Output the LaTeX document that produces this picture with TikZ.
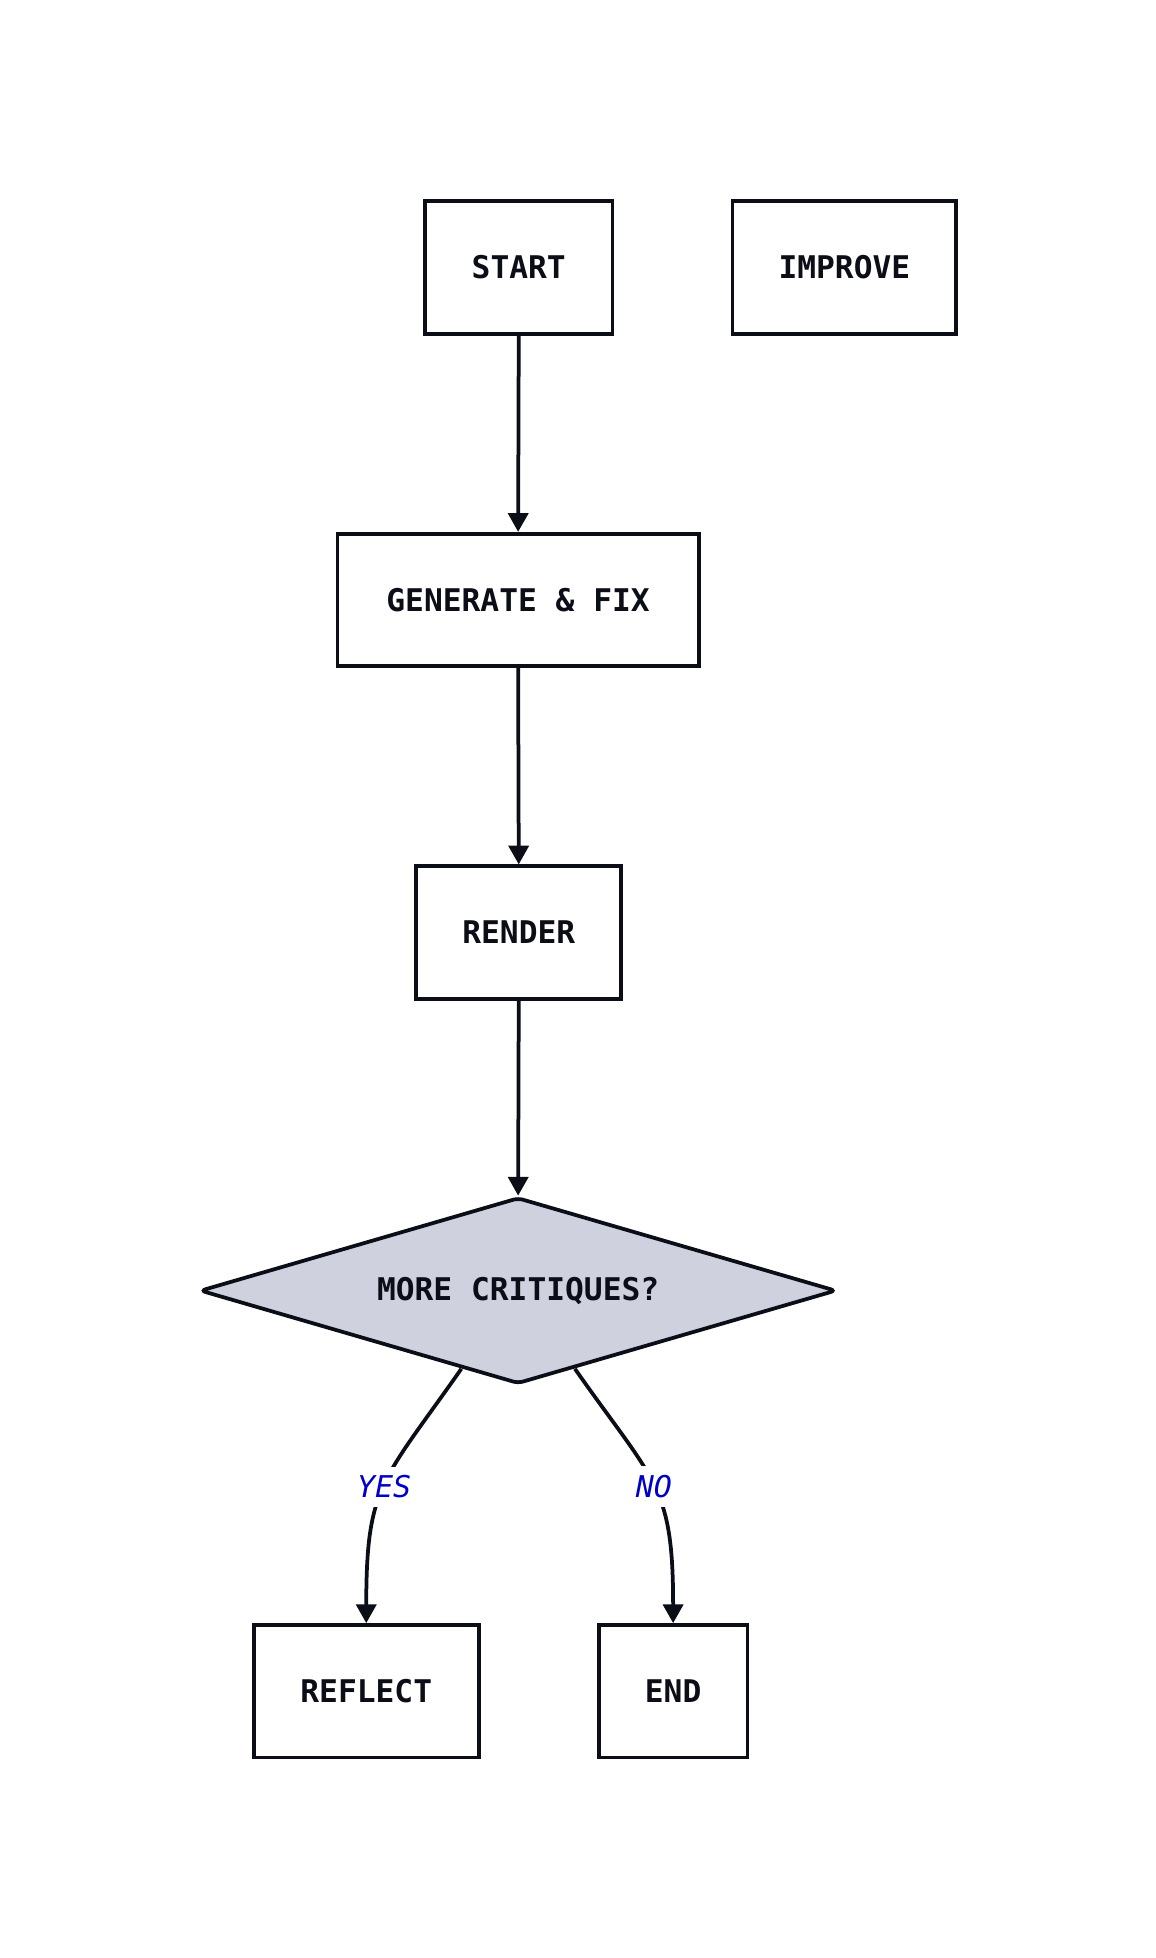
\documentclass[tikz,border=0pt]{standalone}
\usepackage{fontspec}
\setmonofont{DejaVu Sans Mono}
\usepackage{tikz}
\usetikzlibrary{arrows.meta,shapes.geometric}
\definecolor{inkline}{HTML}{0B0D17}
\definecolor{choicefill}{HTML}{CFD2DE}
\definecolor{answerblue}{HTML}{0000C8}

\begin{document}
\begin{tikzpicture}
        [
            x=1pt, y=-1pt,
            >={Triangle[length=15pt, width=16pt]},
            stage/.style={rectangle, draw=inkline, line width=3pt, minimum height=106pt, inner sep=0pt, text=inkline, font=\ttfamily\bfseries\fontsize{25}{25}\selectfont},
            choice/.style={diamond, aspect=3.42, draw=inkline, fill=choicefill, line width=3pt, rounded corners=4pt, minimum width=509pt, minimum height=149pt, inner sep=0pt, text=inkline, font=\ttfamily\bfseries\fontsize{25}{25}\selectfont},
            answer/.style={fill=white, inner sep=7pt, pos=0.5, text=answerblue, font=\ttfamily\itshape\fontsize{24}{24}\selectfont},
            flow/.style={->, line width=3pt, draw=inkline},
        ]
            \useasboundingbox (0,0) rectangle (924.8,1566.4);

            \node[stage, minimum width=150pt] (START) at (415.0, 214.0) {START};
            \node[stage, minimum width=179pt] (IMPROVE) at (675.5, 214.0) {IMPROVE};
            \node[stage, minimum width=289pt] (GENFIX) at (414.5, 480.0) {GENERATE \& FIX};
            \node[stage, minimum width=164pt] (RENDER) at (415.0, 746.0) {RENDER};
            \node[choice] (MORE) at (414.5, 1032.5) {MORE CRITIQUES?};
            \node[stage, minimum width=180pt] (REFLECT) at (293.0, 1353.0) {REFLECT};
            \node[stage, minimum width=119pt] (END) at (538.5, 1353.0) {END};

            \draw[flow] (START.south) -- (GENFIX.north);
            \draw[flow] (GENFIX.south) -- (RENDER.north);
            \draw[flow] (RENDER.south) -- (MORE.north);
            \draw[flow] (MORE.-126) to [out=-125,in=90,looseness=1.3] node[answer] {YES} (REFLECT.north);
            \draw[flow] (MORE.-54) to [out=-55,in=90,looseness=1.3] node[answer] {NO} (END.north);
        \end{tikzpicture}
\end{document}
